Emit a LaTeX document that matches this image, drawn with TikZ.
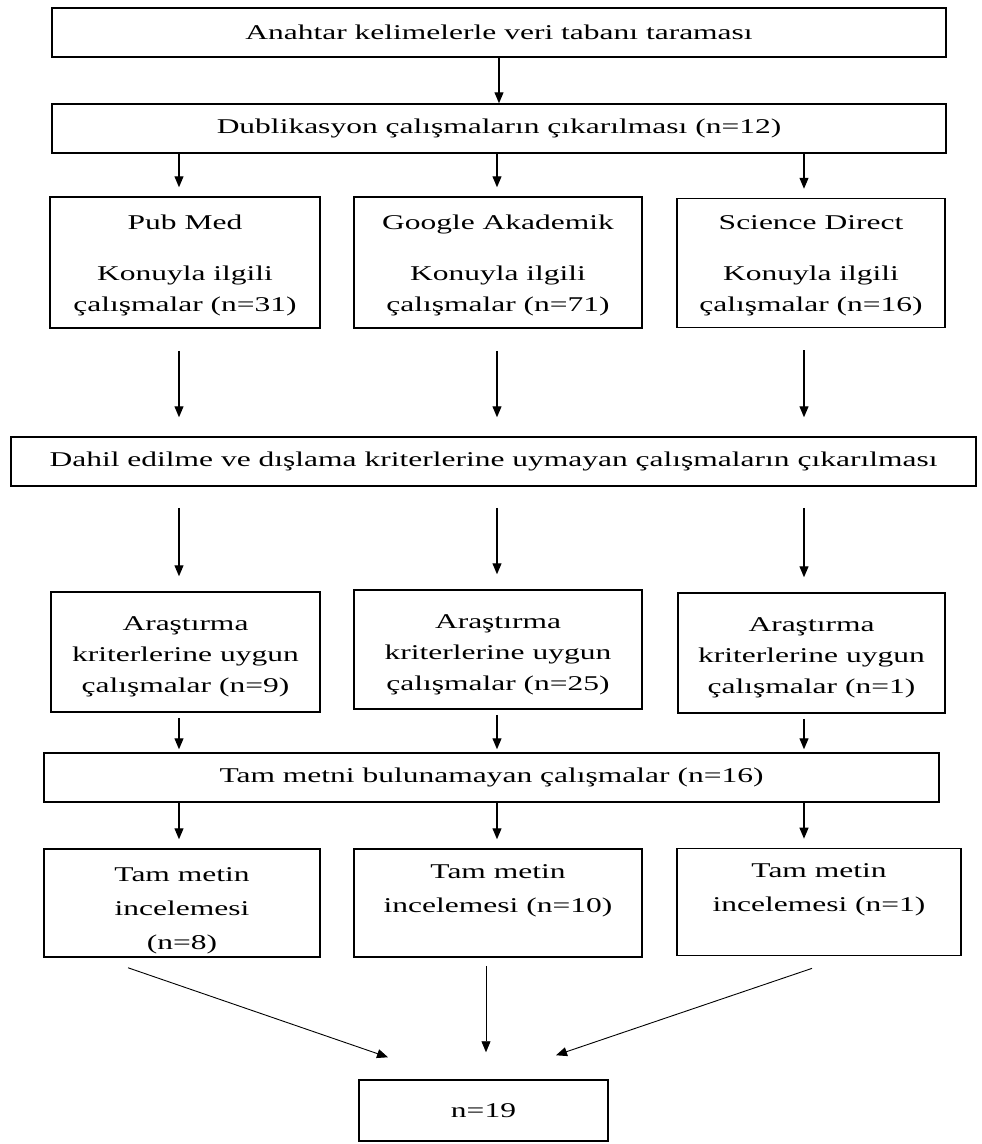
\documentclass[tikz,border=0pt]{standalone}
\usepackage{fontspec}
\setmainfont{Liberation Serif}[FakeStretch=1.5]
\usetikzlibrary{arrows.meta,positioning}

\begin{document}
\begin{tikzpicture}[x = 1pt, y = -1pt,
        box/.style={draw, line width=1.5pt, align=center, inner sep=0pt,
            font=\fontsize{21}{31}\selectfont},
        wide lines/.style={font=\fontsize{21}{34}\selectfont},
        link/.style={line width=1.2pt, -{Triangle[length=11pt, width=9pt]}},
        thin link/.style={line width=0.9pt, -{Triangle[length=11pt, width=9pt]}}]
        \useasboundingbox (0,0) rectangle (982,1144);
        % columns of the arrows
        \coordinate (c1) at (179,0);
        \coordinate (c2) at (497,0);
        \coordinate (c3) at (804,0);
        \node (search) [box, minimum width=894pt, minimum height=49pt] at (499,32.5) {Anahtar kelimelerle veri tabanı taraması};
        \node (dup) [box, minimum width=894pt, minimum height=49pt] at (499,128.5) {Dublikasyon çalışmaların çıkarılması (n=12)};
        \node (pubmed) [box, minimum width=270pt, minimum height=131pt] at (185,262.5) {\rule{0pt}{20pt}Pub Med\\[20pt]Konuyla ilgili\\çalışmalar (n=31)};
        \node (google) [box, minimum width=288pt, minimum height=131pt] at (498,262.5) {\rule{0pt}{20pt}Google Akademik\\[20pt]Konuyla ilgili\\çalışmalar (n=71)};
        \node (science) [box, minimum width=268pt, minimum height=129pt] at (811,263) {\rule{0pt}{20pt}Science Direct\\[20pt]Konuyla ilgili\\çalışmalar (n=16)};
        \node (criteria) [box, minimum width=965pt, minimum height=49pt] at (493.5,461.5) {Dahil edilme ve dışlama kriterlerine uymayan çalışmaların çıkarılması};
        \node (fit1) [box, minimum width=269pt, minimum height=120pt] at (185.5,652) {\rule{0pt}{24pt}Araştırma\\kriterlerine uygun\\çalışmalar (n=9)};
        \node (fit2) [box, minimum width=288pt, minimum height=119pt] at (498,649.5) {\rule{0pt}{24pt}Araştırma\\kriterlerine uygun\\çalışmalar (n=25)};
        \node (fit3) [box, minimum width=267pt, minimum height=120pt] at (811.5,653) {\rule{0pt}{24pt}Araştırma\\kriterlerine uygun\\çalışmalar (n=1)};
        \node (nofull) [box, minimum width=895pt, minimum height=49pt] at (491.5,777.5) {Tam metni bulunamayan çalışmalar (n=16)};
        \node (full1) [box, wide lines, minimum width=276pt, minimum height=108pt] at (182,903) {\rule{0pt}{29pt}Tam metin\\incelemesi\\(n=8)};
        \node (full2) [box, wide lines, minimum width=288pt, minimum height=108pt] at (498,903) {\rule{0pt}{29pt}Tam metin\\incelemesi (n=10)\\\strut};
        \node (full3) [box, wide lines, minimum width=284pt, minimum height=102pt] at (819,902) {\rule{0pt}{29pt}Tam metin\\incelemesi (n=1)\\\strut};
        \node (total) [box, minimum width=249pt, minimum height=61pt] at (483.5,1110.5) {n=19};
        % free ends of the last arrows
        \coordinate (from1) at ([shift={(-54,10)}]full1.south);
        \coordinate (to1) at ([shift={(-95.5,-22)}]total.north);
        \coordinate (from2) at ([shift={(-12,8)}]full2.south);
        \coordinate (to2) at ([shift={(2.5,-27)}]total.north);
        \coordinate (from3) at ([shift={(-7,12)}]full3.south);
        \coordinate (to3) at ([shift={(72.5,-24)}]total.north);
        \draw [link] (search) -- (dup);
        \draw [link, shorten >=9pt] (dup.south -| c1) -- (pubmed.north -| c1);
        \draw [link, shorten >=9pt] (dup.south -| c2) -- (google.north -| c2);
        \draw [link, shorten >=9pt] (dup.south -| c3) -- (science.north -| c3);
        \draw [link, shorten <=22pt, shorten >=19pt] (pubmed.south -| c1) -- (criteria.north -| c1);
        \draw [link, shorten <=22pt, shorten >=19pt] (google.south -| c2) -- (criteria.north -| c2);
        \draw [link, shorten <=22pt, shorten >=19pt] (science.south -| c3) -- (criteria.north -| c3);
        \draw [link, shorten <=21pt, shorten >=15pt] (criteria.south -| c1) -- (fit1.north -| c1);
        \draw [link, shorten <=21pt, shorten >=15pt] (criteria.south -| c2) -- (fit2.north -| c2);
        \draw [link, shorten <=21pt, shorten >=15pt] (criteria.south -| c3) -- (fit3.north -| c3);
        \draw [link, shorten <=5pt, shorten >=3pt] (fit1.south -| c1) -- (nofull.north -| c1);
        \draw [link, shorten <=5pt, shorten >=3pt] (fit2.south -| c2) -- (nofull.north -| c2);
        \draw [link, shorten <=5pt, shorten >=3pt] (fit3.south -| c3) -- (nofull.north -| c3);
        \draw [link, shorten >=9pt] (nofull.south -| c1) -- (full1.north -| c1);
        \draw [link, shorten >=9pt] (nofull.south -| c2) -- (full2.north -| c2);
        \draw [link, shorten >=9pt] (nofull.south -| c3) -- (full3.north -| c3);
        \draw [thin link] (from1) -- (to1);
        \draw [thin link] (from2) -- (to2);
        \draw [thin link] (from3) -- (to3);
    \end{tikzpicture}
\end{document}
